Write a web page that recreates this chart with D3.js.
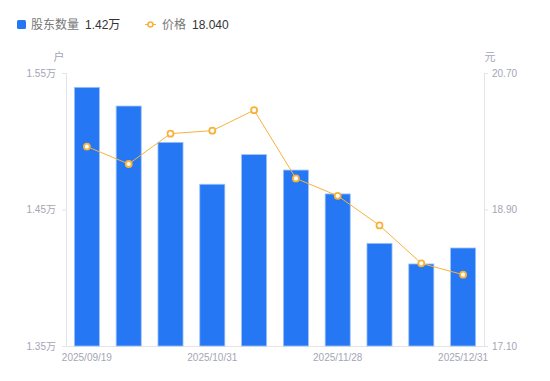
<!DOCTYPE html>
<html lang="zh">
<head>
<meta charset="utf-8">
<title>股东数量与价格</title>
<style>
  body { margin: 0; background: #fff; }
  svg text { font-family: "Liberation Sans", "Noto Sans CJK SC", sans-serif; }
</style>
<script src="https://cdn.jsdelivr.net/npm/d3@7"></script>
</head>
<body>
<div id="chart"></div>
<script>
// data
var dates   = ["2025/09/19", "2025/09/30", "2025/10/17", "2025/10/31", "2025/11/10",
               "2025/11/20", "2025/11/28", "2025/12/10", "2025/12/19", "2025/12/31"];
var holders = [1.5395, 1.5258, 1.4992, 1.4685, 1.4902, 1.4789, 1.4614, 1.4252, 1.4101, 1.4218];
var prices  = [19.73, 19.50, 19.90, 19.94, 20.21, 19.31, 19.08, 18.69, 18.19, 18.04];
var leftTicks  = [1.35, 1.45, 1.55];
var rightTicks = [17.10, 18.90, 20.70];
var shownDates = ["2025/09/19", "2025/10/31", "2025/11/28", "2025/12/31"];

var width = 550, height = 381;
var margin = {top: 73, right: 66, bottom: 35, left: 66};

var blue = "#2677f3", orange = "#f7b23b", tickColor = "#a5a5b5", axisColor = "#e3e3e8";

var svg = d3.select("#chart").append("svg")
  .attr("width", width).attr("height", height);

var x = d3.scaleBand().domain(dates)
  .range([margin.left, width - margin.right]).paddingInner(0.4).paddingOuter(0.2);
var yL = d3.scaleLinear().domain([1.35, 1.55]).range([height - margin.bottom, margin.top]);
var yR = d3.scaleLinear().domain([17.10, 20.70]).range([height - margin.bottom, margin.top]);

// axes
var leftAxis = d3.axisLeft(yL).tickValues(leftTicks).tickSize(4).tickPadding(6)
  .tickFormat(function (d) { return d3.format(".2f")(d) + "万"; });
var gL = svg.append("g").attr("transform", "translate(" + margin.left + ",0)").call(leftAxis);

var rightAxis = d3.axisRight(yR).tickValues(rightTicks).tickSize(4).tickPadding(4)
  .tickFormat(d3.format(".2f"));
var gR = svg.append("g").attr("transform", "translate(" + (width - margin.right) + ",0)").call(rightAxis);

var bottomAxis = d3.axisBottom(x).tickValues(shownDates).tickSize(0).tickPadding(8);
var gB = svg.append("g").attr("transform", "translate(0," + (height - margin.bottom) + ")").call(bottomAxis);

[gL, gR, gB].forEach(function (g) {
  g.select(".domain").attr("stroke", axisColor);
  g.selectAll(".tick line").attr("stroke", axisColor);
  g.selectAll(".tick text").attr("fill", tickColor).style("font-size", "10px");
});

// unit labels
svg.append("text").attr("x", 59).attr("y", 61).attr("text-anchor", "middle")
  .attr("fill", tickColor).style("font-size", "11px").text("户");
svg.append("text").attr("x", 490).attr("y", 61).attr("text-anchor", "middle")
  .attr("fill", tickColor).style("font-size", "11px").text("元");

// bars
svg.append("g").selectAll("rect").data(dates).join("rect")
  .attr("x", function (d) { return x(d); })
  .attr("y", function (d, i) { return yL(holders[i]); })
  .attr("width", x.bandwidth())
  .attr("height", function (d, i) { return yL(1.35) - yL(holders[i]); })
  .attr("fill", blue)
  .attr("stroke", "#9ec3f9").attr("stroke-width", 0.8);

// price line
var line = d3.line()
  .x(function (d, i) { return x(dates[i]) + x.bandwidth() / 2; })
  .y(function (d) { return yR(d); });
svg.append("path").datum(prices).attr("d", line)
  .attr("fill", "none").attr("stroke", orange).attr("stroke-width", 1);
svg.append("g").selectAll("circle").data(prices).join("circle")
  .attr("cx", function (d, i) { return x(dates[i]) + x.bandwidth() / 2; })
  .attr("cy", function (d) { return yR(d); })
  .attr("r", 3).attr("fill", "#fff").attr("stroke", orange).attr("stroke-width", 1.8);

// legend
var lg = svg.append("g").style("font-size", "12px");
lg.append("rect").attr("x", 17).attr("y", 20).attr("width", 9).attr("height", 9).attr("rx", 1.5).attr("fill", blue);
lg.append("text").attr("x", 31).attr("y", 29).attr("fill", "#777").text("股东数量");
lg.append("text").attr("x", 85).attr("y", 29).attr("fill", "#333").text(d3.format(".2f")(holders[9]) + "万");
lg.append("line").attr("x1", 145).attr("x2", 156).attr("y1", 24.5).attr("y2", 24.5)
  .attr("stroke", orange).attr("stroke-width", 1);
lg.append("circle").attr("cx", 150.5).attr("cy", 24.5).attr("r", 2.5)
  .attr("fill", "#fff").attr("stroke", orange).attr("stroke-width", 1.6);
lg.append("text").attr("x", 162).attr("y", 29).attr("fill", "#777").text("价格");
lg.append("text").attr("x", 192).attr("y", 29).attr("fill", "#333").text(d3.format(".3f")(prices[9]));
</script>
</body>
</html>
